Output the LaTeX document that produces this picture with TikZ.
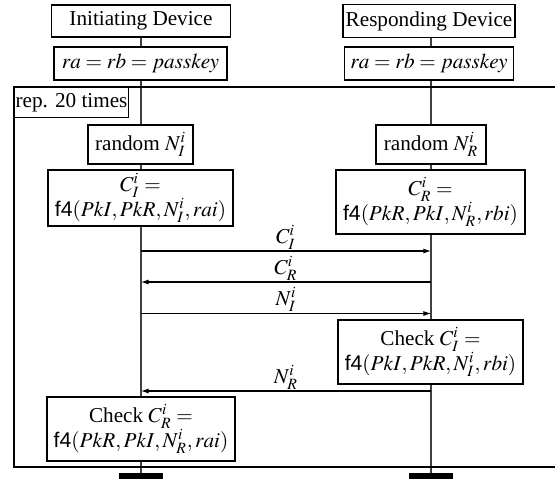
\documentclass[tikz,border=0pt]{standalone}
\usepackage{mathptmx}
\usepackage{fontspec}
\setmainfont{Liberation Serif}
\setsansfont{Liberation Sans}
\usetikzlibrary{arrows.meta,backgrounds}
\newcommand\pxu{0.4717pt}
\begin{document}
\begin{tikzpicture}[x=0.4717pt,y=-0.4717pt,
  box/.style={draw,line width=0.5pt,fill=white,inner sep=0pt,align=center,
    font=\fontsize{10}{12}\selectfont},
  life/.style={line width=0.5pt,draw=black!75},
  msg/.style={line width=0.5pt,-{Latex[length=3.6pt,width=2.4pt]}},
  lbl/.style={above,inner sep=0.6pt,font=\fontsize{10}{12}\selectfont},
  bar/.style={fill=black,inner sep=0pt,minimum width=44*\pxu,minimum height=8*\pxu},
  frame/.style={draw,line width=0.5pt}]
\useasboundingbox (0,0) rectangle (555,478);
\clip (0,0) rectangle (555,478);
% loop frame
\draw[frame] (14,87) rectangle (620,467);
\node[box,anchor=north west,minimum width=114*\pxu,minimum height=30*\pxu] (rep) at (14,87) {rep. 20 times};
% headers
\node[box,minimum width=179*\pxu,minimum height=32*\pxu] (initdev) at (141,21) {Initiating Device};
\node[box,minimum width=172*\pxu,minimum height=33*\pxu] (respdev) at (429,21) {Responding Device};
\node[box,minimum width=173*\pxu,minimum height=33*\pxu] (passI) at (140.5,63.5) {$ra=rb=passkey$};
\node[box,minimum width=169*\pxu,minimum height=33*\pxu] (passR) at (429,63.5) {$ra=rb=passkey$};
% random
\node[box,minimum width=105*\pxu,minimum height=39*\pxu] (randI) at (140.5,144.5) {random $N_I^i$};
\node[box,minimum width=110*\pxu,minimum height=39*\pxu] (randR) at (431,144.5) {random $N_R^i$};
% commitments
\node[box,minimum width=185*\pxu,minimum height=56*\pxu] (CI) at (140.5,198) {$C_I^i=$\\\textsf{f4}$(PkI,PkR,N_I^i,rai)$};
\node[box,minimum width=189*\pxu,minimum height=64*\pxu] (CR) at (430.5,202) {$C_R^i=$\\\textsf{f4}$(PkR,PkI,N_R^i,rbi)$};
% checks
\node[box,minimum width=185*\pxu,minimum height=64*\pxu] (chkI) at (430.5,352) {Check $C_I^i=$\\\textsf{f4}$(PkI,PkR,N_I^i,rbi)$};
\node[box,minimum width=188*\pxu,minimum height=64*\pxu] (chkR) at (141,429) {Check $C_R^i=$\\\textsf{f4}$(PkR,PkI,N_R^i,rai)$};
% lifeline ends
\node[bar] (endI) at (141,477) {};
\node[bar] (endR) at (431,477) {};
\begin{scope}[on background layer]
\draw[life] (141,37) coordinate (lI) -- (endI.north);
\draw[life] (431,37) coordinate (lR) -- (endR.north);
\end{scope}
% messages
\coordinate (m1s) at (141,251);   \coordinate (m1e) at (431,251);
\coordinate (m2s) at (431,282);   \coordinate (m2e) at (141,282);
\coordinate (m3s) at (141,313.5); \coordinate (m3e) at (431,313.5);
\coordinate (m4s) at (431,391);   \coordinate (m4e) at (141,391);
\draw[msg] (m1s) -- node[lbl] (l1) {$C_I^i$} (m1e);
\draw[msg] (m2s) -- node[lbl] (l2) {$C_R^i$} (m2e);
\draw[msg] (m3s) -- node[lbl] (l3) {$N_I^i$} (m3e);
\draw[msg] (m4s) -- node[lbl] (l4) {$N_R^i$} (m4e);
\end{tikzpicture}
\end{document}
